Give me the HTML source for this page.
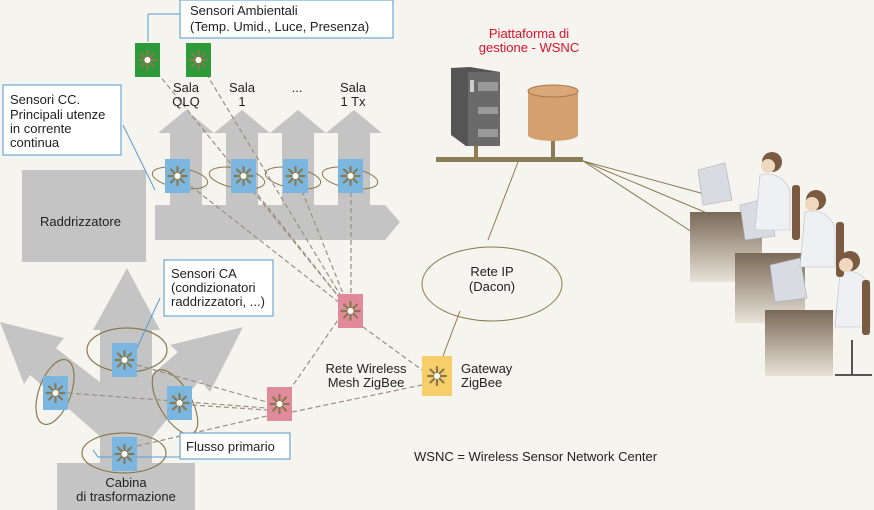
<!DOCTYPE html>
<html><head><meta charset="utf-8"><style>
body{margin:0;background:#f5f4ef}
svg{display:block}
text{font-family:"Liberation Sans",sans-serif;font-size:13px;fill:#222}
</style></head><body>
<svg width="874" height="510" viewBox="0 0 874 510" xmlns="http://www.w3.org/2000/svg">
<defs>
<g id="star">
<g stroke="#8a7a50" stroke-width="2.2" stroke-linecap="round">
<line x1="0" y1="-9" x2="0" y2="9"/><line x1="-9" y1="0" x2="9" y2="0"/>
<line x1="-6.5" y1="-6.5" x2="6.5" y2="6.5"/><line x1="-6.5" y1="6.5" x2="6.5" y2="-6.5"/>
</g><circle r="3" fill="#fff"/>
</g>
<linearGradient id="desk" x1="0" y1="0" x2="0" y2="1"><stop offset="0" stop-color="#7a6a58"/><stop offset="1" stop-color="#e8e2d8"/></linearGradient>
</defs>
<rect width="874" height="510" fill="#f5f4ef"/>

<!-- upper rectifier area -->
<g fill="#c4c4c4">
<rect x="22" y="170" width="124" height="92"/>
<polygon points="155,205 385,205 400,222 385,240 155,240"/>
<polygon points="170,205 170,133 158,133 186,110 214,133 202,133 202,205"/>
<polygon points="226,205 226,133 214,133 242,110 270,133 258,133 258,205"/>
<polygon points="282,205 282,133 270,133 298,110 326,133 314,133 314,205"/>
<polygon points="338,205 338,133 326,133 354,110 382,133 370,133 370,205"/>
</g>
<g fill="none" stroke="#8a7a50" stroke-width="1">
<ellipse cx="180" cy="178" rx="28" ry="10" transform="rotate(10 180 178)"/>
<ellipse cx="237" cy="178" rx="28" ry="10" transform="rotate(10 237 178)"/>
<ellipse cx="293" cy="178" rx="28" ry="10" transform="rotate(10 293 178)"/>
<ellipse cx="350" cy="178" rx="28" ry="10" transform="rotate(10 350 178)"/>
</g>

<!-- lower transformation tree -->
<g fill="#c4c4c4">
<polygon points="100,465 100,330 93,330 127,268 160,330 152,330 152,465"/>
<polygon points="0,322 64,338 56,348 110,390 110,445 30,375 24,384"/>
<polygon points="243,327 210,392 200,380 150,440 140,385 178,352 170,345"/>
<rect x="57" y="463" width="138" height="47"/>
</g>
<g fill="none" stroke="#8a7a50" stroke-width="1.2">
<ellipse cx="127" cy="350" rx="40" ry="22"/>
<ellipse cx="55" cy="392" rx="16" ry="34" transform="rotate(20 55 392)"/>
<ellipse cx="175" cy="402" rx="16" ry="36" transform="rotate(-30 175 402)"/>
<ellipse cx="124" cy="453" rx="42" ry="20"/>
</g>

<!-- dashed links -->
<g stroke="#9a9080" stroke-width="1.2" stroke-dasharray="5,3" fill="none">
<line x1="147" y1="60" x2="350" y2="311"/>
<line x1="198" y1="60" x2="350" y2="311"/>
<line x1="178" y1="176" x2="350" y2="311"/>
<line x1="243" y1="176" x2="350" y2="311"/>
<line x1="296" y1="176" x2="350" y2="311"/>
<line x1="351" y1="176" x2="351" y2="295"/>
<line x1="363" y1="327" x2="422" y2="370"/>
<line x1="280" y1="404" x2="338" y2="320"/>
<line x1="292" y1="412" x2="422" y2="385"/>
<line x1="137" y1="365" x2="267" y2="402"/>
<line x1="68" y1="393" x2="267" y2="408"/>
<line x1="192" y1="405" x2="267" y2="410"/>
<line x1="137" y1="446" x2="267" y2="416"/>
</g>

<!-- blue callout lines -->
<g stroke="#5a9ad0" stroke-width="1" fill="none">
<line x1="148" y1="14" x2="148" y2="42"/><line x1="148" y1="14" x2="180" y2="14"/>
<line x1="123" y1="125" x2="155" y2="190"/>
<line x1="160" y1="298" x2="136" y2="350"/>
<polyline points="93,450 98,457 180,457"/>
</g>

<!-- callout boxes -->
<g fill="#fff" stroke="#6fa6d2" stroke-width="1.2">
<rect x="180" y="0" width="213" height="38"/>
<rect x="3" y="85" width="118" height="70"/>
<rect x="164" y="260" width="109" height="56"/>
<rect x="180" y="433" width="110" height="26"/>
</g>
<text x="190" y="15">Sensori Ambientali</text>
<text x="190" y="31">(Temp. Umid., Luce, Presenza)</text>
<text x="10" y="104">Sensori CC.</text>
<text x="10" y="119">Principali utenze</text>
<text x="10" y="133">in corrente</text>
<text x="10" y="147">continua</text>
<text x="171" y="278">Sensori CA</text>
<text x="171" y="292">(condizionatori</text>
<text x="171" y="306">raddrizzatori, ...)</text>
<text x="186" y="451">Flusso primario</text>

<!-- sensors -->
<g>
<rect x="135" y="43" width="25" height="34" fill="#2e9a3a"/><use href="#star" x="147.5" y="60"/>
<rect x="186" y="43" width="25" height="34" fill="#2e9a3a"/><use href="#star" x="198.5" y="60"/>
<rect x="165" y="159" width="25" height="34" fill="#7ab6e0"/><use href="#star" x="177.5" y="176"/>
<rect x="231" y="159" width="25" height="34" fill="#7ab6e0"/><use href="#star" x="243.5" y="176"/>
<rect x="283" y="159" width="25" height="34" fill="#7ab6e0"/><use href="#star" x="295.5" y="176"/>
<rect x="338" y="159" width="25" height="34" fill="#7ab6e0"/><use href="#star" x="350.5" y="176"/>
<rect x="112" y="343" width="25" height="34" fill="#7ab6e0"/><use href="#star" x="124.5" y="360"/>
<rect x="43" y="376" width="25" height="34" fill="#7ab6e0"/><use href="#star" x="55.5" y="393"/>
<rect x="167" y="386" width="25" height="34" fill="#7ab6e0"/><use href="#star" x="179.5" y="403"/>
<rect x="112" y="437" width="25" height="34" fill="#7ab6e0"/><use href="#star" x="124.5" y="454"/>
<rect x="338" y="294" width="25" height="34" fill="#e08a9a"/><use href="#star" x="350.5" y="311"/>
<rect x="267" y="387" width="25" height="34" fill="#e08a9a"/><use href="#star" x="279.5" y="404"/>
<rect x="422" y="356" width="30" height="40" fill="#f6cf6a"/><use href="#star" x="437" y="376"/>
</g>

<text x="186" y="92" text-anchor="middle">Sala</text><text x="186" y="106" text-anchor="middle">QLQ</text>
<text x="242" y="92" text-anchor="middle">Sala</text><text x="242" y="106" text-anchor="middle">1</text>
<text x="297" y="92" text-anchor="middle">...</text>
<text x="353" y="92" text-anchor="middle">Sala</text><text x="353" y="106" text-anchor="middle">1 Tx</text>
<text x="40" y="226">Raddrizzatore</text>
<text x="126" y="487" text-anchor="middle">Cabina</text>
<text x="126" y="501" text-anchor="middle">di trasformazione</text>
<text x="366" y="373" text-anchor="middle">Rete Wireless</text>
<text x="366" y="387" text-anchor="middle">Mesh ZigBee</text>
<text x="461" y="373">Gateway</text>
<text x="461" y="387">ZigBee</text>
<text x="414" y="461">WSNC = Wireless Sensor Network Center</text>

<!-- IP network -->
<g stroke="#8a7a50" stroke-width="1" fill="none">
<line x1="518" y1="162" x2="488" y2="240"/>
<line x1="460" y1="311" x2="443" y2="356"/>
<ellipse cx="492" cy="284" rx="70" ry="37"/>
<line x1="583" y1="161" x2="708" y2="195"/>
<line x1="583" y1="161" x2="752" y2="232"/>
<line x1="583" y1="161" x2="712" y2="245"/>
<line x1="712" y1="245" x2="780" y2="290"/>
</g>
<text x="492" y="276" text-anchor="middle">Rete IP</text>
<text x="492" y="291" text-anchor="middle">(Dacon)</text>

<text x="529" y="38" text-anchor="middle" style="fill:#e0102a">Piattaforma di</text>
<text x="529" y="52" text-anchor="middle" style="fill:#e0102a">gestione - WSNC</text>

<!-- server and db -->
<rect x="436" y="157" width="147" height="5" fill="#8a7d55"/>
<rect x="474" y="143" width="4" height="15" fill="#8a7d55"/>
<rect x="551" y="138" width="4" height="20" fill="#8a7d55"/>
<polygon points="451,68 470,67 500,72 500,146 466,146 451,135" fill="#555"/>
<rect x="468" y="72" width="32" height="74" fill="#6a6a6a"/>
<rect x="478" y="82" width="20" height="9" fill="#999"/>
<rect x="478" y="107" width="20" height="7" fill="#999"/>
<rect x="478" y="129" width="20" height="8" fill="#999"/>
<rect x="470" y="80" width="4" height="12" fill="#ccc"/>
<path d="M528,91 v44 a25,6 0 0 0 50,0 v-44z" fill="#d4a070"/>
<ellipse cx="553" cy="91" rx="25" ry="6" fill="#d8a878" stroke="#b07848"/>

<!-- workstations -->
<g>
<rect x="690" y="212" width="72" height="70" fill="url(#desk)"/>
<rect x="735" y="253" width="70" height="70" fill="url(#desk)"/>
<rect x="765" y="310" width="68" height="66" fill="url(#desk)"/>
<g fill="#d8dce2" stroke="#aab" stroke-width="0.6">
<polygon points="698,170 725,163 732,200 703,205"/>
<polygon points="740,205 768,198 775,236 745,240"/>
<polygon points="770,265 800,258 807,298 775,302"/>
</g>
<g fill="#eef0f4" stroke="#bbc" stroke-width="0.6">
<path d="M760,175 q20,-5 30,15 l0,40 l-35,0 z"/>
<path d="M805,212 q20,-5 30,15 l0,40 l-35,0 z"/>
<path d="M840,272 q20,-5 30,15 l0,40 l-35,0 z"/>
</g>
<g fill="#7a5a40">
<circle cx="772" cy="162" r="10"/><circle cx="816" cy="200" r="10"/><circle cx="850" cy="261" r="10"/>
<rect x="792" y="185" width="8" height="55" rx="3"/><rect x="836" y="222" width="8" height="55" rx="3"/>
<rect x="862" y="280" width="8" height="55" rx="3"/>
</g>
<g fill="#f0d8c0"><circle cx="768" cy="166" r="7"/><circle cx="812" cy="204" r="7"/><circle cx="846" cy="265" r="7"/></g>
<g stroke="#555" stroke-width="2"><line x1="852" y1="340" x2="852" y2="375"/><line x1="835" y1="375" x2="872" y2="375"/></g>
</g>
</svg>
</body></html>
